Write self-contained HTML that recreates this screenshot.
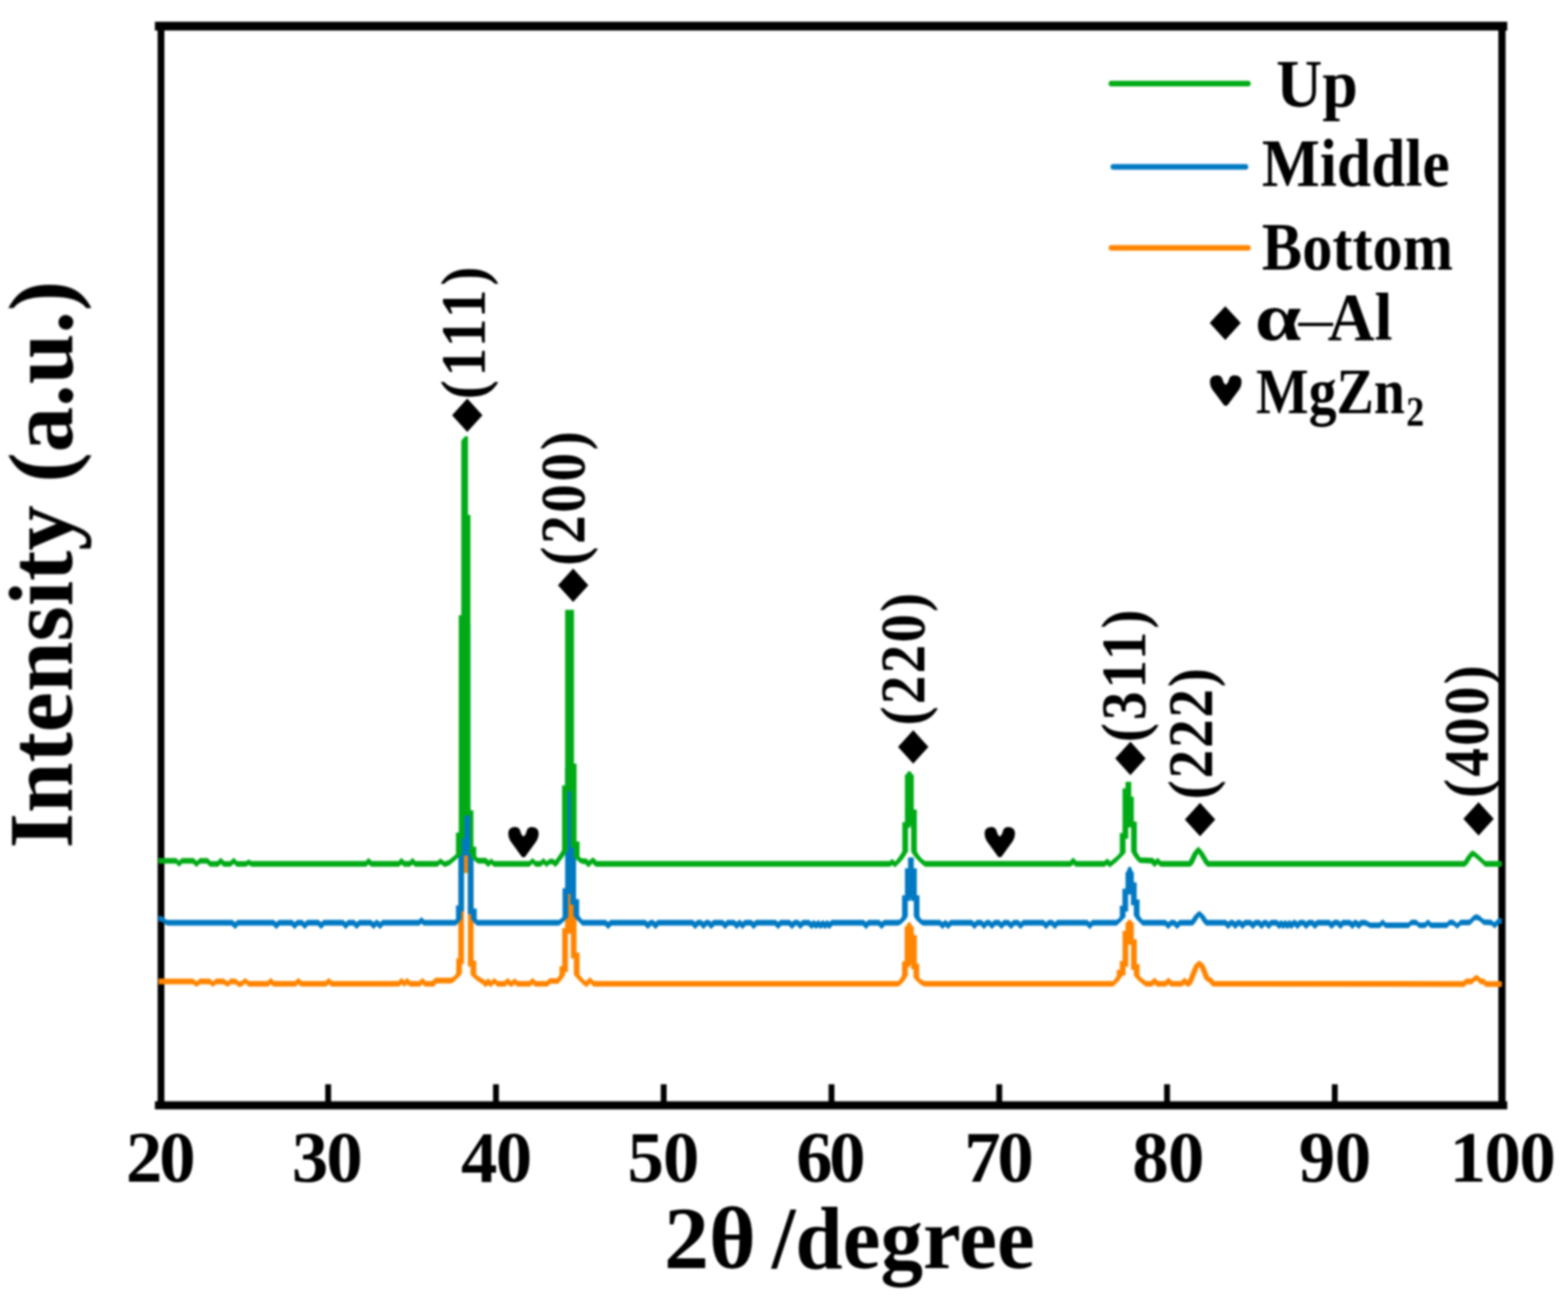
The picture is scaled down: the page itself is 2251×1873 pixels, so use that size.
<!DOCTYPE html>
<html lang="en">
<head>
<meta charset="utf-8">
<title>XRD patterns: Up, Middle, Bottom</title>
<style>
html,body{margin:0;padding:0;background:#fff;}
body{width:2251px;height:1873px;overflow:hidden;}
svg{display:block;}
svg text{font-family:'Liberation Serif','DejaVu Serif',serif;fill:#000;}
</style>
</head>
<body>
<svg width="2251" height="1873" viewBox="0 0 2251 1873">
<defs><filter id="soft" x="-2%" y="-2%" width="104%" height="104%" color-interpolation-filters="sRGB"><feGaussianBlur stdDeviation="1.35"/></filter></defs>
<rect x="0" y="0" width="2251" height="1873" fill="#fff"/>
<g filter="url(#soft)">
<rect x="222.4" y="31.2" width="1941.4" height="12.6" fill="#000"/>
<rect x="222.4" y="1580.6" width="1941.4" height="11.6" fill="#000"/>
<rect x="226.3" y="37.0" width="9.7" height="1549.0" fill="#000"/>
<rect x="2151.0" y="37.0" width="10.4" height="1549.0" fill="#000"/>
<rect x="466.9" y="1556.2" width="8.4" height="25.8" fill="#000"/>
<rect x="707.8" y="1556.2" width="8.4" height="25.8" fill="#000"/>
<rect x="948.6" y="1556.2" width="8.4" height="25.8" fill="#000"/>
<rect x="1189.5" y="1556.2" width="8.4" height="25.8" fill="#000"/>
<rect x="1430.3" y="1556.2" width="8.4" height="25.8" fill="#000"/>
<rect x="1671.2" y="1556.2" width="8.4" height="25.8" fill="#000"/>
<rect x="1912.0" y="1556.2" width="8.4" height="25.8" fill="#000"/>
<path d="M227.5,1404.5L277.0,1404.5L277.0,1412.7L227.5,1412.7ZM272.9,1408.6L277.0,1404.5L282.1,1408.4L286.2,1412.5L282.1,1416.6L277.0,1412.7ZM278.0,1412.5L282.1,1408.4L287.0,1404.5L291.1,1408.6L287.0,1412.7L282.1,1416.6ZM287.0,1404.5L301.0,1404.5L301.0,1412.7L287.0,1412.7ZM296.9,1408.6L301.0,1404.5L305.8,1408.4L309.9,1412.5L305.8,1416.6L301.0,1412.7ZM301.7,1412.5L305.8,1408.4L310.0,1404.5L314.1,1408.6L310.0,1412.7L305.8,1416.6ZM310.0,1404.5L321.0,1404.5L321.0,1412.7L310.0,1412.7ZM316.9,1408.6L321.0,1404.5L326.9,1408.4L331.0,1412.5L326.9,1416.6L321.0,1412.7ZM322.8,1412.5L326.9,1408.4L331.0,1404.5L335.1,1408.6L331.0,1412.7L326.9,1416.6ZM331.0,1404.5L338.0,1404.5L338.0,1412.7L331.0,1412.7ZM333.9,1408.6L338.0,1404.5L342.7,1408.4L346.8,1412.5L342.7,1416.6L338.0,1412.7ZM338.6,1412.5L342.7,1408.4L347.0,1407.9L351.1,1412.0L347.0,1416.1L342.7,1416.6ZM342.9,1412.0L347.0,1407.9L352.0,1403.4L356.1,1407.5L352.0,1411.6L347.0,1416.1ZM347.9,1407.5L352.0,1403.4L357.0,1407.9L361.1,1412.0L357.0,1416.1L352.0,1411.6ZM357.0,1407.9L385.3,1407.9L385.3,1416.1L357.0,1416.1ZM381.2,1412.0L384.7,1407.5L388.8,1403.4L392.9,1407.5L389.4,1412.0L385.3,1416.1ZM384.7,1407.5L388.8,1403.4L392.9,1407.5L396.4,1412.0L392.3,1416.1L388.2,1412.0ZM392.3,1407.9L424.8,1407.9L424.8,1416.1L392.3,1416.1ZM420.7,1412.0L424.2,1407.5L428.3,1403.4L432.4,1407.5L428.9,1412.0L424.8,1416.1ZM424.2,1407.5L428.3,1403.4L432.4,1407.5L435.9,1412.0L431.8,1416.1L427.7,1412.0ZM431.8,1407.9L468.5,1407.9L468.5,1416.1L431.8,1416.1ZM464.4,1412.0L467.9,1407.5L472.0,1403.4L476.1,1407.5L472.6,1412.0L468.5,1416.1ZM467.9,1407.5L472.0,1403.4L476.1,1407.5L479.6,1412.0L475.5,1416.1L471.4,1412.0ZM475.5,1407.9L572.9,1407.9L572.9,1416.1L475.5,1416.1ZM568.8,1412.0L572.3,1407.5L576.4,1403.4L580.5,1407.5L577.0,1412.0L572.9,1416.1ZM572.3,1407.5L576.4,1403.4L580.5,1407.5L584.0,1412.0L579.9,1416.1L575.8,1412.0ZM579.9,1407.9L581.0,1407.9L581.0,1416.1L579.9,1416.1ZM576.9,1412.0L580.4,1407.5L584.5,1403.4L588.6,1407.5L585.1,1412.0L581.0,1416.1ZM580.4,1407.5L584.5,1403.4L588.6,1407.5L592.1,1412.0L588.0,1416.1L583.9,1412.0ZM588.0,1407.9L603.0,1407.9L603.0,1416.1L588.0,1416.1ZM598.9,1412.0L602.4,1407.5L606.5,1403.4L610.6,1407.5L607.1,1412.0L603.0,1416.1ZM602.4,1407.5L606.5,1403.4L610.6,1407.5L614.1,1412.0L610.0,1416.1L605.9,1412.0ZM610.0,1407.9L620.0,1407.9L620.0,1416.1L610.0,1416.1ZM620.0,1407.9L622.0,1407.9L622.0,1416.1L620.0,1416.1ZM617.9,1412.0L620.9,1407.4L625.0,1403.3L629.1,1407.4L626.1,1412.0L622.0,1416.1ZM625.0,1403.3L648.0,1403.3L648.0,1411.5L625.0,1411.5ZM643.9,1407.4L648.0,1403.3L652.0,1400.9L656.1,1405.0L652.0,1409.1L648.0,1411.5ZM647.9,1405.0L651.9,1401.0L656.0,1396.9L660.1,1401.0L656.1,1405.0L652.0,1409.1ZM651.9,1401.0L655.0,1397.0L659.1,1392.9L663.2,1397.0L660.1,1401.0L656.0,1405.1ZM655.0,1379.5L663.2,1379.5L663.2,1397.0L655.0,1397.0ZM659.1,1375.4L662.0,1375.4L662.0,1383.6L659.1,1383.6ZM657.9,1249.0L666.1,1249.0L666.1,1379.5L657.9,1379.5ZM662.0,1244.9L668.5,1244.9L668.5,1253.1L662.0,1253.1ZM664.4,1228.6L672.6,1228.6L672.6,1249.0L664.4,1249.0ZM668.5,1224.5L669.5,1224.5L669.5,1232.7L668.5,1232.7ZM665.4,1228.6L673.6,1228.6L673.6,1249.0L665.4,1249.0ZM669.5,1244.9L675.8,1244.9L675.8,1253.1L669.5,1253.1ZM671.7,1249.0L679.9,1249.0L679.9,1383.2L671.7,1383.2ZM675.8,1379.1L679.6,1379.1L679.6,1387.3L675.8,1387.3ZM675.5,1383.2L683.7,1383.2L683.7,1398.9L675.5,1398.9ZM675.5,1398.9L679.6,1394.8L684.0,1398.9L688.1,1403.0L684.0,1407.1L679.6,1403.0ZM679.9,1403.0L684.0,1398.9L690.0,1402.9L694.1,1407.0L690.0,1411.1L684.0,1407.1ZM685.9,1407.0L690.0,1402.9L695.0,1405.9L699.1,1410.0L695.0,1414.1L690.0,1411.1ZM690.9,1410.0L695.0,1405.9L699.1,1410.0L701.1,1413.0L697.0,1417.1L692.9,1413.0ZM692.9,1413.0L696.7,1408.0L700.8,1403.9L704.9,1408.0L701.1,1413.0L697.0,1417.1ZM696.7,1408.0L700.8,1403.9L704.9,1408.0L708.6,1413.0L704.5,1417.1L700.4,1413.0ZM700.4,1413.0L705.6,1407.5L709.7,1403.4L713.8,1407.5L708.6,1413.0L704.5,1417.1ZM705.6,1407.5L709.7,1403.4L713.8,1407.5L718.1,1412.0L714.0,1416.1L709.9,1412.0ZM714.0,1407.9L725.5,1407.9L725.5,1416.1L714.0,1416.1ZM721.4,1412.0L724.9,1407.5L729.0,1403.4L733.1,1407.5L729.6,1412.0L725.5,1416.1ZM724.9,1407.5L729.0,1403.4L733.1,1407.5L736.6,1412.0L732.5,1416.1L728.4,1412.0ZM732.5,1407.9L735.5,1407.9L735.5,1416.1L732.5,1416.1ZM731.4,1412.0L734.9,1408.0L739.0,1403.9L743.1,1408.0L739.6,1412.0L735.5,1416.1ZM734.9,1408.0L739.0,1403.9L743.1,1408.0L746.6,1412.0L742.5,1416.1L738.4,1412.0ZM742.5,1407.9L761.0,1407.9L761.0,1416.1L742.5,1416.1ZM756.9,1412.0L760.4,1407.5L764.5,1403.4L768.6,1407.5L765.1,1412.0L761.0,1416.1ZM760.4,1407.5L764.5,1403.4L768.6,1407.5L772.1,1412.0L768.0,1416.1L763.9,1412.0ZM768.0,1407.9L786.0,1407.9L786.0,1416.1L768.0,1416.1ZM781.9,1412.0L784.9,1408.0L789.0,1403.9L793.1,1408.0L790.1,1412.0L786.0,1416.1ZM789.0,1403.9L801.0,1403.9L801.0,1412.1L789.0,1412.1ZM796.9,1408.0L799.9,1404.0L804.0,1399.9L808.1,1404.0L805.1,1408.0L801.0,1412.1ZM799.9,1404.0L803.2,1399.0L807.3,1394.9L811.4,1399.0L808.1,1404.0L804.0,1408.1ZM803.2,1390.8L811.4,1390.8L811.4,1399.0L803.2,1399.0ZM807.3,1386.7L811.2,1386.7L811.2,1394.9L807.3,1394.9ZM807.1,1336.0L815.3,1336.0L815.3,1390.8L807.1,1390.8ZM811.2,1331.9L815.4,1331.9L815.4,1340.1L811.2,1340.1ZM811.3,1282.0L819.5,1282.0L819.5,1336.0L811.3,1336.0ZM815.4,1277.9L822.4,1277.9L822.4,1286.1L815.4,1286.1ZM818.3,1282.0L826.5,1282.0L826.5,1297.0L818.3,1297.0ZM822.4,1292.9L823.6,1292.9L823.6,1301.1L822.4,1301.1ZM819.5,1297.0L827.7,1297.0L827.7,1371.4L819.5,1371.4ZM823.6,1367.3L827.9,1367.3L827.9,1375.5L823.6,1375.5ZM823.8,1371.4L832.0,1371.4L832.0,1399.0L823.8,1399.0ZM823.8,1399.0L827.9,1394.9L832.0,1399.0L836.1,1404.0L832.0,1408.1L827.9,1404.0ZM827.9,1404.0L832.0,1399.9L836.1,1404.0L841.1,1409.0L837.0,1413.1L832.9,1409.0ZM832.9,1409.0L837.0,1404.9L841.8,1408.9L845.9,1413.0L841.8,1417.1L837.0,1413.1ZM837.7,1413.0L842.9,1406.5L847.0,1402.4L851.1,1406.5L845.9,1413.0L841.8,1417.1ZM842.9,1406.5L847.0,1402.4L851.1,1406.5L856.1,1412.0L852.0,1416.1L847.9,1412.0ZM852.0,1407.9L1289.0,1407.9L1289.0,1416.1L852.0,1416.1ZM1284.9,1412.0L1289.0,1407.9L1292.5,1405.9L1296.6,1410.0L1292.5,1414.1L1289.0,1416.1ZM1288.4,1410.0L1291.9,1405.0L1296.0,1400.9L1300.1,1405.0L1296.6,1410.0L1292.5,1414.1ZM1291.9,1405.0L1295.0,1400.0L1299.1,1395.9L1303.2,1400.0L1300.1,1405.0L1296.0,1409.1ZM1295.0,1384.0L1303.2,1384.0L1303.2,1400.0L1295.0,1400.0ZM1299.1,1379.9L1302.8,1379.9L1302.8,1388.1L1299.1,1388.1ZM1298.7,1334.0L1306.9,1334.0L1306.9,1384.0L1298.7,1384.0ZM1302.8,1329.9L1307.7,1329.9L1307.7,1338.1L1302.8,1338.1ZM1303.6,1334.0L1311.8,1334.0L1311.8,1346.0L1303.6,1346.0ZM1307.7,1341.9L1312.1,1341.9L1312.1,1350.1L1307.7,1350.1ZM1308.0,1346.0L1316.2,1346.0L1316.2,1387.0L1308.0,1387.0ZM1312.1,1382.9L1315.5,1382.9L1315.5,1391.1L1312.1,1391.1ZM1311.4,1387.0L1319.6,1387.0L1319.6,1402.7L1311.4,1402.7ZM1311.4,1402.7L1315.5,1398.6L1319.6,1402.7L1322.1,1406.0L1318.0,1410.1L1313.9,1406.0ZM1313.9,1406.0L1318.0,1401.9L1322.0,1405.4L1326.1,1409.5L1322.0,1413.6L1318.0,1410.1ZM1317.9,1409.5L1322.0,1405.4L1327.0,1407.9L1331.1,1412.0L1327.0,1416.1L1322.0,1413.6ZM1327.0,1407.9L1598.0,1407.9L1598.0,1416.1L1327.0,1416.1ZM1593.9,1412.0L1603.0,1402.9L1607.1,1407.0L1598.0,1416.1ZM1598.9,1407.0L1603.2,1401.0L1607.3,1396.9L1611.4,1401.0L1607.1,1407.0L1603.0,1411.1ZM1603.2,1396.0L1611.4,1396.0L1611.4,1401.0L1603.2,1401.0ZM1607.3,1391.9L1611.7,1391.9L1611.7,1400.1L1607.3,1400.1ZM1607.6,1383.3L1615.8,1383.3L1615.8,1396.0L1607.6,1396.0ZM1611.7,1379.2L1615.6,1379.2L1615.6,1387.4L1611.7,1387.4ZM1611.5,1340.2L1619.7,1340.2L1619.7,1383.3L1611.5,1383.3ZM1615.6,1336.1L1619.9,1336.1L1619.9,1344.3L1615.6,1344.3ZM1615.8,1328.0L1624.0,1328.0L1624.0,1340.2L1615.8,1340.2ZM1619.9,1323.9L1623.6,1323.9L1623.6,1332.1L1619.9,1332.1ZM1619.5,1328.0L1627.7,1328.0L1627.7,1352.0L1619.5,1352.0ZM1623.6,1347.9L1627.9,1347.9L1627.9,1356.1L1623.6,1356.1ZM1623.8,1352.0L1632.0,1352.0L1632.0,1387.8L1623.8,1387.8ZM1627.9,1383.7L1631.8,1383.7L1631.8,1391.9L1627.9,1391.9ZM1627.7,1387.8L1635.9,1387.8L1635.9,1400.0L1627.7,1400.0ZM1627.7,1400.0L1631.8,1395.9L1635.9,1400.0L1640.1,1405.0L1636.0,1409.1L1631.9,1405.0ZM1631.9,1405.0L1636.0,1400.9L1641.0,1404.9L1645.1,1409.0L1641.0,1413.1L1636.0,1409.1ZM1636.9,1409.0L1641.0,1404.9L1645.0,1407.9L1649.1,1412.0L1645.0,1416.1L1641.0,1413.1ZM1645.0,1407.9L1654.0,1407.9L1654.0,1416.1L1645.0,1416.1ZM1649.9,1412.0L1653.4,1407.0L1657.5,1402.9L1661.6,1407.0L1658.1,1412.0L1654.0,1416.1ZM1653.4,1407.0L1657.5,1402.9L1661.6,1407.0L1665.1,1412.0L1661.0,1416.1L1656.9,1412.0ZM1661.0,1407.9L1674.0,1407.9L1674.0,1416.1L1661.0,1416.1ZM1669.9,1412.0L1673.4,1407.0L1677.5,1402.9L1681.6,1407.0L1678.1,1412.0L1674.0,1416.1ZM1673.4,1407.0L1677.5,1402.9L1681.6,1407.0L1685.1,1412.0L1681.0,1416.1L1676.9,1412.0ZM1681.0,1407.9L1697.0,1407.9L1697.0,1416.1L1681.0,1416.1ZM1692.9,1412.0L1696.4,1407.0L1700.5,1402.9L1704.6,1407.0L1701.1,1412.0L1697.0,1416.1ZM1696.4,1407.0L1700.5,1402.9L1704.6,1407.0L1708.1,1412.0L1704.0,1416.1L1699.9,1412.0ZM1704.0,1407.9L1705.0,1407.9L1705.0,1416.1L1704.0,1416.1ZM1700.9,1412.0L1705.0,1407.9L1707.5,1407.5L1711.6,1411.6L1707.5,1415.7L1705.0,1416.1ZM1703.4,1411.6L1707.4,1402.0L1711.5,1397.9L1715.6,1402.0L1711.6,1411.6L1707.5,1415.7ZM1707.4,1402.0L1711.4,1392.0L1715.5,1387.9L1719.6,1392.0L1715.6,1402.0L1711.5,1406.1ZM1711.4,1392.0L1714.4,1385.0L1718.5,1380.9L1722.6,1385.0L1719.6,1392.0L1715.5,1396.1ZM1714.4,1385.0L1718.5,1380.9L1721.8,1378.6L1725.9,1382.7L1721.8,1386.8L1718.5,1389.1ZM1717.7,1382.7L1721.8,1378.6L1725.0,1380.9L1729.1,1385.0L1725.0,1389.1L1721.8,1386.8ZM1720.9,1385.0L1725.0,1380.9L1729.1,1385.0L1732.1,1392.0L1728.0,1396.1L1723.9,1392.0ZM1723.9,1392.0L1728.0,1387.9L1732.1,1392.0L1735.1,1400.0L1731.0,1404.1L1726.9,1400.0ZM1726.9,1400.0L1731.0,1395.9L1735.1,1400.0L1737.1,1405.0L1733.0,1409.1L1728.9,1405.0ZM1728.9,1405.0L1733.0,1400.9L1738.0,1402.4L1742.1,1406.5L1738.0,1410.6L1733.0,1409.1ZM1733.9,1406.5L1738.0,1402.4L1742.1,1406.5L1745.1,1412.0L1741.0,1416.1L1736.9,1412.0ZM1736.9,1412.0L1741.0,1407.9L2102.0,1408.2L2106.1,1412.3L2102.0,1416.4L1741.0,1416.1ZM2097.9,1412.3L2100.4,1408.6L2104.5,1404.5L2108.6,1408.6L2106.1,1412.3L2102.0,1416.4ZM2104.5,1404.5L2113.0,1404.5L2113.0,1412.7L2104.5,1412.7ZM2108.9,1408.6L2112.9,1404.5L2117.0,1400.4L2121.1,1404.5L2117.1,1408.6L2113.0,1412.7ZM2112.9,1404.5L2117.0,1400.4L2119.5,1399.3L2123.6,1403.4L2119.5,1407.5L2117.0,1408.6ZM2115.4,1403.4L2119.5,1399.3L2122.0,1400.4L2126.1,1404.5L2122.0,1408.6L2119.5,1407.5ZM2117.9,1404.5L2122.0,1400.4L2126.1,1404.5L2129.6,1408.6L2125.5,1412.7L2121.4,1408.6ZM2125.5,1404.5L2130.0,1404.5L2130.0,1412.7L2125.5,1412.7ZM2125.9,1408.6L2130.0,1404.5L2134.1,1408.6L2137.1,1412.3L2133.0,1416.4L2128.9,1412.3ZM2133.0,1408.2L2156.0,1408.2L2156.0,1416.4L2133.0,1416.4ZM615.9,1407.9L624.1,1407.9L624.1,1416.1L615.9,1416.1ZM655.0,1375.4L663.2,1375.4L663.2,1383.6L655.0,1383.6ZM657.9,1375.4L666.1,1375.4L666.1,1383.6L657.9,1383.6ZM657.9,1244.9L666.1,1244.9L666.1,1253.1L657.9,1253.1ZM664.4,1244.9L672.6,1244.9L672.6,1253.1L664.4,1253.1ZM664.4,1224.5L672.6,1224.5L672.6,1232.7L664.4,1232.7ZM665.4,1224.5L673.6,1224.5L673.6,1232.7L665.4,1232.7ZM665.4,1244.9L673.6,1244.9L673.6,1253.1L665.4,1253.1ZM671.7,1244.9L679.9,1244.9L679.9,1253.1L671.7,1253.1ZM671.7,1379.1L679.9,1379.1L679.9,1387.3L671.7,1387.3ZM675.5,1379.1L683.7,1379.1L683.7,1387.3L675.5,1387.3ZM803.2,1386.7L811.4,1386.7L811.4,1394.9L803.2,1394.9ZM807.1,1386.7L815.3,1386.7L815.3,1394.9L807.1,1394.9ZM807.1,1331.9L815.3,1331.9L815.3,1340.1L807.1,1340.1ZM811.3,1331.9L819.5,1331.9L819.5,1340.1L811.3,1340.1ZM811.3,1277.9L819.5,1277.9L819.5,1286.1L811.3,1286.1ZM818.3,1277.9L826.5,1277.9L826.5,1286.1L818.3,1286.1ZM818.3,1292.9L826.5,1292.9L826.5,1301.1L818.3,1301.1ZM819.5,1292.9L827.7,1292.9L827.7,1301.1L819.5,1301.1ZM819.5,1367.3L827.7,1367.3L827.7,1375.5L819.5,1375.5ZM823.8,1367.3L832.0,1367.3L832.0,1375.5L823.8,1375.5ZM1295.0,1379.9L1303.2,1379.9L1303.2,1388.1L1295.0,1388.1ZM1298.7,1379.9L1306.9,1379.9L1306.9,1388.1L1298.7,1388.1ZM1298.7,1329.9L1306.9,1329.9L1306.9,1338.1L1298.7,1338.1ZM1303.6,1329.9L1311.8,1329.9L1311.8,1338.1L1303.6,1338.1ZM1303.6,1341.9L1311.8,1341.9L1311.8,1350.1L1303.6,1350.1ZM1308.0,1341.9L1316.2,1341.9L1316.2,1350.1L1308.0,1350.1ZM1308.0,1382.9L1316.2,1382.9L1316.2,1391.1L1308.0,1391.1ZM1311.4,1382.9L1319.6,1382.9L1319.6,1391.1L1311.4,1391.1ZM1603.2,1391.9L1611.4,1391.9L1611.4,1400.1L1603.2,1400.1ZM1607.6,1391.9L1615.8,1391.9L1615.8,1400.1L1607.6,1400.1ZM1607.6,1379.2L1615.8,1379.2L1615.8,1387.4L1607.6,1387.4ZM1611.5,1379.2L1619.7,1379.2L1619.7,1387.4L1611.5,1387.4ZM1611.5,1336.1L1619.7,1336.1L1619.7,1344.3L1611.5,1344.3ZM1615.8,1336.1L1624.0,1336.1L1624.0,1344.3L1615.8,1344.3ZM1615.8,1323.9L1624.0,1323.9L1624.0,1332.1L1615.8,1332.1ZM1619.5,1323.9L1627.7,1323.9L1627.7,1332.1L1619.5,1332.1ZM1619.5,1347.9L1627.7,1347.9L1627.7,1356.1L1619.5,1356.1ZM1623.8,1347.9L1632.0,1347.9L1632.0,1356.1L1623.8,1356.1ZM1623.8,1383.7L1632.0,1383.7L1632.0,1391.9L1623.8,1391.9ZM1627.7,1383.7L1635.9,1383.7L1635.9,1391.9L1627.7,1391.9Z" fill="#ff8400" fill-rule="nonzero"/>
<path d="M815.4,1315.0L823.6,1315.0L823.6,1336.0L815.4,1336.0Z" fill="#ff8400" fill-rule="nonzero"/>
<path d="M1303.4,1340.0L1311.6,1340.0L1311.6,1384.0L1303.4,1384.0Z" fill="#ff8400" fill-rule="nonzero"/>
<path d="M1615.5,1336.0L1623.7,1336.0L1623.7,1352.0L1615.5,1352.0Z" fill="#ff8400" fill-rule="nonzero"/>
<polygon points="1298.7,1333.0 1303.9,1323.8 1306.9,1323.8 1311.8,1333.0" fill="#ff8400"/>
<polygon points="1615.8,1327.0 1620.0,1320.1 1623.0,1320.1 1627.7,1327.0" fill="#ff8400"/>
<path d="M227.5,1314.4L231.0,1314.4L231.0,1322.6L227.5,1322.6ZM226.9,1318.5L231.0,1314.4L234.0,1315.9L238.1,1320.0L234.0,1324.1L231.0,1322.6ZM229.9,1320.0L234.0,1315.9L238.0,1319.4L242.1,1323.5L238.0,1327.6L234.0,1324.1ZM233.9,1323.5L238.0,1319.4L241.3,1320.2L245.4,1324.3L241.3,1328.4L238.0,1327.6ZM241.3,1320.2L333.9,1320.2L333.9,1328.4L241.3,1328.4ZM329.8,1324.3L333.9,1320.2L338.0,1324.3L341.5,1329.3L337.4,1333.4L333.3,1329.3ZM333.3,1329.3L336.8,1324.3L340.9,1320.2L345.0,1324.3L341.5,1329.3L337.4,1333.4ZM340.9,1320.2L393.2,1320.2L393.2,1328.4L340.9,1328.4ZM389.1,1324.3L393.2,1320.2L397.3,1324.3L400.8,1329.3L396.7,1333.4L392.6,1329.3ZM392.6,1329.3L396.1,1324.3L400.2,1320.2L404.3,1324.3L400.8,1329.3L396.7,1333.4ZM400.2,1320.2L419.5,1320.2L419.5,1328.4L400.2,1328.4ZM415.4,1324.3L419.5,1320.2L423.6,1324.3L427.1,1329.3L423.0,1333.4L418.9,1329.3ZM418.9,1329.3L422.4,1324.3L426.5,1320.2L430.6,1324.3L427.1,1329.3L423.0,1333.4ZM426.5,1320.2L434.0,1320.2L434.0,1328.4L426.5,1328.4ZM429.9,1324.3L434.0,1320.2L438.1,1324.3L441.6,1329.3L437.5,1333.4L433.4,1329.3ZM433.4,1329.3L436.9,1324.3L441.0,1320.2L445.1,1324.3L441.6,1329.3L437.5,1333.4ZM441.0,1320.2L457.5,1320.2L457.5,1328.4L441.0,1328.4ZM453.4,1324.3L457.5,1320.2L461.6,1324.3L465.1,1329.3L461.0,1333.4L456.9,1329.3ZM456.9,1329.3L460.4,1324.3L464.5,1320.2L468.6,1324.3L465.1,1329.3L461.0,1333.4ZM464.5,1320.2L492.8,1320.2L492.8,1328.4L464.5,1328.4ZM488.7,1324.3L492.8,1320.2L496.9,1324.3L500.4,1329.3L496.3,1333.4L492.2,1329.3ZM492.2,1329.3L495.7,1324.3L499.8,1320.2L503.9,1324.3L500.4,1329.3L496.3,1333.4ZM499.8,1320.2L508.5,1320.2L508.5,1328.4L499.8,1328.4ZM504.4,1324.3L508.5,1320.2L512.6,1324.3L516.1,1329.3L512.0,1333.4L507.9,1329.3ZM507.9,1329.3L511.4,1324.3L515.5,1320.2L519.6,1324.3L516.1,1329.3L512.0,1333.4ZM515.5,1320.2L532.8,1320.2L532.8,1328.4L515.5,1328.4ZM528.7,1324.3L532.8,1320.2L536.9,1324.3L540.4,1329.3L536.3,1333.4L532.2,1329.3ZM532.2,1329.3L535.7,1324.3L539.8,1320.2L543.9,1324.3L540.4,1329.3L536.3,1333.4ZM539.8,1320.2L542.0,1320.2L542.0,1328.4L539.8,1328.4ZM537.9,1324.3L542.0,1320.2L546.1,1324.3L549.6,1329.3L545.5,1333.4L541.4,1329.3ZM541.4,1329.3L544.9,1324.3L549.0,1320.2L553.1,1324.3L549.6,1329.3L545.5,1333.4ZM549.0,1320.2L602.0,1320.2L602.0,1328.4L549.0,1328.4ZM597.9,1324.3L600.9,1320.3L605.0,1316.2L609.1,1320.3L606.1,1324.3L602.0,1328.4ZM600.9,1320.3L605.0,1316.2L609.1,1320.3L612.1,1324.3L608.0,1328.4L603.9,1324.3ZM608.0,1320.2L654.5,1320.2L654.5,1328.4L608.0,1328.4ZM650.4,1324.3L654.6,1319.0L658.7,1314.9L662.8,1319.0L658.6,1324.3L654.5,1328.4ZM654.6,1303.6L662.8,1303.6L662.8,1319.0L654.6,1319.0ZM658.7,1299.5L662.1,1299.5L662.1,1307.7L658.7,1307.7ZM658.0,1224.0L666.2,1224.0L666.2,1303.6L658.0,1303.6ZM662.1,1219.9L665.8,1219.9L665.8,1228.1L662.1,1228.1ZM661.7,900.0L669.9,900.0L669.9,1224.0L661.7,1224.0ZM665.8,895.9L671.2,895.9L671.2,904.1L665.8,904.1ZM667.1,900.0L675.3,900.0L675.3,1224.0L667.1,1224.0ZM671.2,1219.9L675.7,1219.9L675.7,1228.1L671.2,1228.1ZM671.6,1224.0L679.8,1224.0L679.8,1308.0L671.6,1308.0ZM675.7,1303.9L680.3,1303.9L680.3,1312.1L675.7,1312.1ZM676.2,1308.0L684.4,1308.0L684.4,1319.0L676.2,1319.0ZM676.2,1319.0L680.3,1314.9L684.4,1319.0L688.6,1324.3L684.5,1328.4L680.4,1324.3ZM684.5,1320.2L802.4,1320.2L802.4,1328.4L684.5,1328.4ZM798.3,1324.3L802.4,1320.2L807.0,1316.9L811.1,1321.0L807.0,1325.1L802.4,1328.4ZM802.9,1321.0L807.6,1316.0L811.7,1311.9L815.8,1316.0L811.1,1321.0L807.0,1325.1ZM807.6,1278.9L815.8,1278.9L815.8,1316.0L807.6,1316.0ZM811.7,1274.8L815.4,1274.8L815.4,1283.0L811.7,1283.0ZM811.3,1106.0L819.5,1106.0L819.5,1278.9L811.3,1278.9ZM815.4,1101.9L822.9,1101.9L822.9,1110.1L815.4,1110.1ZM818.8,1106.0L827.0,1106.0L827.0,1294.5L818.8,1294.5ZM822.9,1290.4L827.3,1290.4L827.3,1298.6L822.9,1298.6ZM823.2,1294.5L831.4,1294.5L831.4,1314.0L823.2,1314.0ZM823.2,1314.0L827.3,1309.9L831.4,1314.0L835.1,1319.0L831.0,1323.1L826.9,1319.0ZM826.9,1319.0L831.0,1314.9L835.1,1319.0L840.1,1324.3L836.0,1328.4L831.9,1324.3ZM836.0,1320.2L869.9,1320.2L869.9,1328.4L836.0,1328.4ZM865.8,1324.3L869.9,1320.2L874.0,1324.3L877.2,1329.3L873.1,1333.4L869.0,1329.3ZM869.0,1329.3L872.2,1324.3L876.3,1320.2L880.4,1324.3L877.2,1329.3L873.1,1333.4ZM876.3,1320.2L926.8,1320.2L926.8,1328.4L876.3,1328.4ZM922.7,1324.3L926.8,1320.2L930.9,1324.3L934.1,1329.3L930.0,1333.4L925.9,1329.3ZM925.9,1329.3L929.1,1324.3L933.2,1320.2L937.3,1324.3L934.1,1329.3L930.0,1333.4ZM933.2,1320.2L937.8,1320.2L937.8,1328.4L933.2,1328.4ZM933.7,1324.3L937.8,1320.2L941.9,1324.3L945.1,1329.3L941.0,1333.4L936.9,1329.3ZM936.9,1329.3L940.1,1324.3L944.2,1320.2L948.3,1324.3L945.1,1329.3L941.0,1333.4ZM944.2,1320.2L994.8,1320.2L994.8,1328.4L944.2,1328.4ZM990.7,1324.3L994.8,1320.2L998.9,1324.3L1002.1,1329.3L998.0,1333.4L993.9,1329.3ZM993.9,1329.3L997.1,1324.3L1001.2,1320.2L1005.3,1324.3L1002.1,1329.3L998.0,1333.4ZM1001.2,1320.2L1006.8,1320.2L1006.8,1328.4L1001.2,1328.4ZM1002.7,1324.3L1006.8,1320.2L1010.9,1324.3L1014.1,1329.3L1010.0,1333.4L1005.9,1329.3ZM1005.9,1329.3L1009.1,1324.3L1013.2,1320.2L1017.3,1324.3L1014.1,1329.3L1010.0,1333.4ZM1013.2,1320.2L1017.8,1320.2L1017.8,1328.4L1013.2,1328.4ZM1013.7,1324.3L1017.8,1320.2L1021.9,1324.3L1025.1,1329.3L1021.0,1333.4L1016.9,1329.3ZM1016.9,1329.3L1020.1,1324.3L1024.2,1320.2L1028.3,1324.3L1025.1,1329.3L1021.0,1333.4ZM1024.2,1320.2L1037.8,1320.2L1037.8,1328.4L1024.2,1328.4ZM1033.7,1324.3L1037.8,1320.2L1041.9,1324.3L1045.1,1329.3L1041.0,1333.4L1036.9,1329.3ZM1036.9,1329.3L1040.1,1324.3L1044.2,1320.2L1048.3,1324.3L1045.1,1329.3L1041.0,1333.4ZM1044.2,1320.2L1054.3,1320.2L1054.3,1328.4L1044.2,1328.4ZM1050.2,1324.3L1054.3,1320.2L1058.4,1324.3L1061.6,1329.3L1057.5,1333.4L1053.4,1329.3ZM1053.4,1329.3L1056.6,1324.3L1060.7,1320.2L1064.8,1324.3L1061.6,1329.3L1057.5,1333.4ZM1060.7,1320.2L1062.8,1320.2L1062.8,1328.4L1060.7,1328.4ZM1058.7,1324.3L1062.8,1320.2L1066.9,1324.3L1070.1,1329.3L1066.0,1333.4L1061.9,1329.3ZM1061.9,1329.3L1065.1,1324.3L1069.2,1320.2L1073.3,1324.3L1070.1,1329.3L1066.0,1333.4ZM1069.2,1320.2L1078.8,1320.2L1078.8,1328.4L1069.2,1328.4ZM1074.7,1324.3L1078.8,1320.2L1082.9,1324.3L1086.1,1329.3L1082.0,1333.4L1077.9,1329.3ZM1077.9,1329.3L1081.1,1324.3L1085.2,1320.2L1089.3,1324.3L1086.1,1329.3L1082.0,1333.4ZM1085.2,1320.2L1113.8,1320.2L1113.8,1328.4L1085.2,1328.4ZM1109.7,1324.3L1113.8,1320.2L1117.9,1324.3L1121.1,1329.3L1117.0,1333.4L1112.9,1329.3ZM1112.9,1329.3L1116.1,1324.3L1120.2,1320.2L1124.3,1324.3L1121.1,1329.3L1117.0,1333.4ZM1120.2,1320.2L1133.8,1320.2L1133.8,1328.4L1120.2,1328.4ZM1129.7,1324.3L1133.8,1320.2L1137.9,1324.3L1141.1,1329.3L1137.0,1333.4L1132.9,1329.3ZM1132.9,1329.3L1136.1,1324.3L1140.2,1320.2L1144.3,1324.3L1141.1,1329.3L1137.0,1333.4ZM1140.2,1320.2L1145.8,1320.2L1145.8,1328.4L1140.2,1328.4ZM1141.7,1324.3L1145.8,1320.2L1149.9,1324.3L1153.1,1329.3L1149.0,1333.4L1144.9,1329.3ZM1144.9,1329.3L1148.1,1324.3L1152.2,1320.2L1156.3,1324.3L1153.1,1329.3L1149.0,1333.4ZM1152.2,1320.2L1161.8,1320.2L1161.8,1328.4L1152.2,1328.4ZM1157.7,1324.3L1161.8,1320.2L1165.9,1324.3L1169.1,1329.3L1165.0,1333.4L1160.9,1329.3ZM1160.9,1329.3L1164.1,1324.3L1168.2,1320.2L1172.3,1324.3L1169.1,1329.3L1165.0,1333.4ZM1168.2,1320.2L1168.3,1320.2L1168.3,1328.4L1168.2,1328.4ZM1164.2,1324.3L1168.3,1320.2L1172.4,1324.3L1175.6,1329.3L1171.5,1333.4L1167.4,1329.3ZM1167.4,1329.3L1170.6,1324.3L1174.7,1320.2L1178.8,1324.3L1175.6,1329.3L1171.5,1333.4ZM1174.7,1320.2L1174.8,1320.2L1174.8,1328.4L1174.7,1328.4ZM1170.7,1324.3L1174.8,1320.2L1178.9,1324.3L1182.1,1329.3L1178.0,1333.4L1173.9,1329.3ZM1173.9,1329.3L1177.1,1324.3L1181.2,1320.2L1185.3,1324.3L1182.1,1329.3L1178.0,1333.4ZM1177.1,1324.3L1181.2,1320.2L1185.3,1324.3L1188.3,1329.3L1184.2,1333.4L1180.1,1329.3ZM1180.1,1329.3L1183.3,1324.3L1187.4,1320.2L1191.5,1324.3L1188.3,1329.3L1184.2,1333.4ZM1183.3,1324.3L1187.4,1320.2L1191.5,1324.3L1194.6,1329.3L1190.5,1333.4L1186.4,1329.3ZM1186.4,1329.3L1189.6,1324.3L1193.7,1320.2L1197.8,1324.3L1194.6,1329.3L1190.5,1333.4ZM1193.7,1320.2L1240.1,1320.2L1240.1,1328.4L1193.7,1328.4ZM1236.0,1324.3L1240.1,1320.2L1244.2,1324.3L1247.4,1329.3L1243.3,1333.4L1239.2,1329.3ZM1239.2,1329.3L1242.4,1324.3L1246.5,1320.2L1250.6,1324.3L1247.4,1329.3L1243.3,1333.4ZM1246.5,1320.2L1262.4,1320.2L1262.4,1328.4L1246.5,1328.4ZM1258.3,1324.3L1262.4,1320.2L1266.5,1324.3L1269.7,1329.3L1265.6,1333.4L1261.5,1329.3ZM1261.5,1329.3L1264.7,1324.3L1268.8,1320.2L1272.9,1324.3L1269.7,1329.3L1265.6,1333.4ZM1268.8,1320.2L1289.0,1320.2L1289.0,1328.4L1268.8,1328.4ZM1284.9,1324.3L1289.0,1320.2L1292.0,1319.4L1296.1,1323.5L1292.0,1327.6L1289.0,1328.4ZM1287.9,1323.5L1292.0,1319.4L1296.0,1315.9L1300.1,1320.0L1296.0,1324.1L1292.0,1327.6ZM1291.9,1320.0L1295.0,1315.0L1299.1,1310.9L1303.2,1315.0L1300.1,1320.0L1296.0,1324.1ZM1295.0,1289.0L1303.2,1289.0L1303.2,1315.0L1295.0,1315.0ZM1299.1,1284.9L1303.2,1284.9L1303.2,1293.1L1299.1,1293.1ZM1299.1,1250.4L1307.3,1250.4L1307.3,1289.0L1299.1,1289.0ZM1303.2,1246.3L1307.7,1246.3L1307.7,1254.5L1303.2,1254.5ZM1303.6,1235.1L1311.8,1235.1L1311.8,1250.4L1303.6,1250.4ZM1303.6,1235.1L1311.8,1235.1L1311.8,1250.4L1303.6,1250.4ZM1307.7,1246.3L1312.1,1246.3L1312.1,1254.5L1307.7,1254.5ZM1308.0,1250.4L1316.2,1250.4L1316.2,1289.0L1308.0,1289.0ZM1312.1,1284.9L1315.9,1284.9L1315.9,1293.1L1312.1,1293.1ZM1311.8,1289.0L1320.0,1289.0L1320.0,1315.0L1311.8,1315.0ZM1311.8,1315.0L1315.9,1310.9L1320.0,1315.0L1323.1,1320.0L1319.0,1324.1L1314.9,1320.0ZM1314.9,1320.0L1319.0,1315.9L1323.0,1319.4L1327.1,1323.5L1323.0,1327.6L1319.0,1324.1ZM1318.9,1323.5L1323.0,1319.4L1326.0,1320.2L1330.1,1324.3L1326.0,1328.4L1323.0,1327.6ZM1326.0,1320.2L1349.6,1320.2L1349.6,1328.4L1326.0,1328.4ZM1345.5,1324.3L1349.6,1320.2L1353.7,1324.3L1357.2,1329.3L1353.1,1333.4L1349.0,1329.3ZM1349.0,1329.3L1352.5,1324.3L1356.6,1320.2L1360.7,1324.3L1357.2,1329.3L1353.1,1333.4ZM1356.6,1320.2L1357.6,1320.2L1357.6,1328.4L1356.6,1328.4ZM1353.5,1324.3L1357.6,1320.2L1361.7,1324.3L1365.2,1329.3L1361.1,1333.4L1357.0,1329.3ZM1357.0,1329.3L1360.5,1324.3L1364.6,1320.2L1368.7,1324.3L1365.2,1329.3L1361.1,1333.4ZM1364.6,1320.2L1395.4,1320.2L1395.4,1328.4L1364.6,1328.4ZM1391.3,1324.3L1395.4,1320.2L1399.5,1324.3L1403.0,1329.3L1398.9,1333.4L1394.8,1329.3ZM1394.8,1329.3L1398.3,1324.3L1402.4,1320.2L1406.5,1324.3L1403.0,1329.3L1398.9,1333.4ZM1402.4,1320.2L1409.1,1320.2L1409.1,1328.4L1402.4,1328.4ZM1405.0,1324.3L1409.1,1320.2L1413.2,1324.3L1416.7,1329.3L1412.6,1333.4L1408.5,1329.3ZM1408.5,1329.3L1412.0,1324.3L1416.1,1320.2L1420.2,1324.3L1416.7,1329.3L1412.6,1333.4ZM1416.1,1320.2L1420.5,1320.2L1420.5,1328.4L1416.1,1328.4ZM1416.4,1324.3L1420.5,1320.2L1424.6,1324.3L1428.1,1329.3L1424.0,1333.4L1419.9,1329.3ZM1419.9,1329.3L1423.4,1324.3L1427.5,1320.2L1431.6,1324.3L1428.1,1329.3L1424.0,1333.4ZM1427.5,1320.2L1434.2,1320.2L1434.2,1328.4L1427.5,1328.4ZM1430.1,1324.3L1434.2,1320.2L1438.3,1324.3L1441.8,1329.3L1437.7,1333.4L1433.6,1329.3ZM1433.6,1329.3L1437.1,1324.3L1441.2,1320.2L1445.3,1324.3L1441.8,1329.3L1437.7,1333.4ZM1441.2,1320.2L1447.9,1320.2L1447.9,1328.4L1441.2,1328.4ZM1443.8,1324.3L1447.9,1320.2L1452.0,1324.3L1455.5,1329.3L1451.4,1333.4L1447.3,1329.3ZM1447.3,1329.3L1450.8,1324.3L1454.9,1320.2L1459.0,1324.3L1455.5,1329.3L1451.4,1333.4ZM1454.9,1320.2L1461.6,1320.2L1461.6,1328.4L1454.9,1328.4ZM1457.5,1324.3L1461.6,1320.2L1465.7,1324.3L1469.2,1329.3L1465.1,1333.4L1461.0,1329.3ZM1461.0,1329.3L1464.5,1324.3L1468.6,1320.2L1472.7,1324.3L1469.2,1329.3L1465.1,1333.4ZM1468.6,1320.2L1498.2,1320.2L1498.2,1328.4L1468.6,1328.4ZM1494.1,1324.3L1498.2,1320.2L1502.3,1324.3L1505.8,1329.3L1501.7,1333.4L1497.6,1329.3ZM1497.6,1329.3L1501.1,1324.3L1505.2,1320.2L1509.3,1324.3L1505.8,1329.3L1501.7,1333.4ZM1505.2,1320.2L1510.8,1320.2L1510.8,1328.4L1505.2,1328.4ZM1506.7,1324.3L1510.8,1320.2L1514.9,1324.3L1518.4,1329.3L1514.3,1333.4L1510.2,1329.3ZM1510.2,1329.3L1513.7,1324.3L1517.8,1320.2L1521.9,1324.3L1518.4,1329.3L1514.3,1333.4ZM1517.8,1320.2L1561.0,1320.2L1561.0,1328.4L1517.8,1328.4ZM1556.9,1324.3L1561.0,1320.2L1565.1,1324.3L1568.6,1329.3L1564.5,1333.4L1560.4,1329.3ZM1560.4,1329.3L1563.9,1324.3L1568.0,1320.2L1572.1,1324.3L1568.6,1329.3L1564.5,1333.4ZM1568.0,1320.2L1603.0,1320.2L1603.0,1328.4L1568.0,1328.4ZM1598.9,1324.3L1603.0,1320.2L1607.0,1316.9L1611.1,1321.0L1607.0,1325.1L1603.0,1328.4ZM1602.9,1321.0L1607.6,1316.0L1611.7,1311.9L1615.8,1316.0L1611.1,1321.0L1607.0,1325.1ZM1607.6,1304.2L1615.8,1304.2L1615.8,1316.0L1607.6,1316.0ZM1611.7,1300.1L1615.4,1300.1L1615.4,1308.3L1611.7,1308.3ZM1611.3,1279.6L1619.5,1279.6L1619.5,1304.2L1611.3,1304.2ZM1615.4,1275.5L1619.9,1275.5L1619.9,1283.7L1615.4,1283.7ZM1615.8,1256.0L1624.0,1256.0L1624.0,1279.6L1615.8,1279.6ZM1619.9,1251.9L1623.6,1251.9L1623.6,1260.1L1619.9,1260.1ZM1619.5,1256.0L1627.7,1256.0L1627.7,1270.7L1619.5,1270.7ZM1623.6,1266.6L1627.7,1266.6L1627.7,1274.8L1623.6,1274.8ZM1623.6,1270.7L1631.8,1270.7L1631.8,1295.2L1623.6,1295.2ZM1627.7,1291.1L1631.8,1291.1L1631.8,1299.3L1627.7,1299.3ZM1627.7,1295.2L1635.9,1295.2L1635.9,1314.0L1627.7,1314.0ZM1627.7,1314.0L1631.8,1309.9L1635.9,1314.0L1640.1,1320.0L1636.0,1324.1L1631.9,1320.0ZM1631.9,1320.0L1636.0,1315.9L1640.4,1320.2L1644.5,1324.3L1640.4,1328.4L1636.0,1324.1ZM1640.4,1320.2L1673.6,1320.2L1673.6,1328.4L1640.4,1328.4ZM1669.5,1324.3L1673.6,1320.2L1677.7,1324.3L1681.2,1329.3L1677.1,1333.4L1673.0,1329.3ZM1673.0,1329.3L1676.5,1324.3L1680.6,1320.2L1684.7,1324.3L1681.2,1329.3L1677.1,1333.4ZM1680.6,1320.2L1686.3,1320.2L1686.3,1328.4L1680.6,1328.4ZM1682.2,1324.3L1686.3,1320.2L1690.4,1324.3L1693.9,1329.3L1689.8,1333.4L1685.7,1329.3ZM1685.7,1329.3L1689.2,1324.3L1693.3,1320.2L1697.4,1324.3L1693.9,1329.3L1689.8,1333.4ZM1693.3,1320.2L1712.0,1320.2L1712.0,1328.4L1693.3,1328.4ZM1707.9,1324.3L1714.4,1314.0L1718.5,1309.9L1722.6,1314.0L1716.1,1324.3L1712.0,1328.4ZM1714.4,1314.0L1718.5,1309.9L1721.8,1307.2L1725.9,1311.3L1721.8,1315.4L1718.5,1318.1ZM1717.7,1311.3L1721.8,1307.2L1725.0,1309.9L1729.1,1314.0L1725.0,1318.1L1721.8,1315.4ZM1720.9,1314.0L1725.0,1309.9L1729.1,1314.0L1735.6,1324.3L1731.5,1328.4L1727.4,1324.3ZM1731.5,1320.2L1760.1,1320.2L1760.1,1328.4L1731.5,1328.4ZM1756.0,1324.3L1760.1,1320.2L1764.2,1324.3L1767.2,1329.3L1763.1,1333.4L1759.0,1329.3ZM1759.0,1329.3L1762.0,1324.3L1766.1,1320.2L1770.2,1324.3L1767.2,1329.3L1763.1,1333.4ZM1766.1,1320.2L1770.4,1320.2L1770.4,1328.4L1766.1,1328.4ZM1766.3,1324.3L1770.4,1320.2L1774.5,1324.3L1777.5,1329.3L1773.4,1333.4L1769.3,1329.3ZM1769.3,1329.3L1772.3,1324.3L1776.4,1320.2L1780.5,1324.3L1777.5,1329.3L1773.4,1333.4ZM1776.4,1320.2L1780.7,1320.2L1780.7,1328.4L1776.4,1328.4ZM1776.6,1324.3L1780.7,1320.2L1784.8,1324.3L1787.8,1329.3L1783.7,1333.4L1779.6,1329.3ZM1779.6,1329.3L1782.6,1324.3L1786.7,1320.2L1790.8,1324.3L1787.8,1329.3L1783.7,1333.4ZM1786.7,1320.2L1795.6,1320.2L1795.6,1328.4L1786.7,1328.4ZM1791.5,1324.3L1795.6,1320.2L1799.7,1324.3L1802.7,1329.3L1798.6,1333.4L1794.5,1329.3ZM1794.5,1329.3L1797.5,1324.3L1801.6,1320.2L1805.7,1324.3L1802.7,1329.3L1798.6,1333.4ZM1801.6,1320.2L1808.1,1320.2L1808.1,1328.4L1801.6,1328.4ZM1804.0,1324.3L1808.1,1320.2L1812.2,1324.3L1815.2,1329.3L1811.1,1333.4L1807.0,1329.3ZM1807.0,1329.3L1810.0,1324.3L1814.1,1320.2L1818.2,1324.3L1815.2,1329.3L1811.1,1333.4ZM1814.1,1320.2L1818.4,1320.2L1818.4,1328.4L1814.1,1328.4ZM1814.3,1324.3L1818.4,1320.2L1822.5,1324.3L1825.5,1329.3L1821.4,1333.4L1817.3,1329.3ZM1817.3,1329.3L1820.3,1324.3L1824.4,1320.2L1828.5,1324.3L1825.5,1329.3L1821.4,1333.4ZM1824.4,1320.2L1833.3,1320.2L1833.3,1328.4L1824.4,1328.4ZM1829.2,1324.3L1833.3,1320.2L1837.4,1324.3L1840.4,1329.3L1836.3,1333.4L1832.2,1329.3ZM1832.2,1329.3L1835.2,1324.3L1839.3,1320.2L1843.4,1324.3L1840.4,1329.3L1836.3,1333.4ZM1835.2,1324.3L1839.3,1320.2L1843.4,1324.3L1846.3,1329.3L1842.2,1333.4L1838.1,1329.3ZM1838.1,1329.3L1841.1,1324.3L1845.2,1320.2L1849.3,1324.3L1846.3,1329.3L1842.2,1333.4ZM1841.1,1324.3L1845.2,1320.2L1849.3,1324.3L1852.1,1329.3L1848.0,1333.4L1843.9,1329.3ZM1843.9,1329.3L1846.9,1324.3L1851.0,1320.2L1855.1,1324.3L1852.1,1329.3L1848.0,1333.4ZM1846.9,1324.3L1851.0,1320.2L1855.1,1324.3L1857.9,1329.3L1853.8,1333.4L1849.7,1329.3ZM1849.7,1329.3L1852.7,1324.3L1856.8,1320.2L1860.9,1324.3L1857.9,1329.3L1853.8,1333.4ZM1856.8,1320.2L1859.6,1320.2L1859.6,1328.4L1856.8,1328.4ZM1855.5,1324.3L1859.6,1320.2L1863.7,1324.3L1866.7,1329.3L1862.6,1333.4L1858.5,1329.3ZM1858.5,1329.3L1861.5,1324.3L1865.6,1320.2L1869.7,1324.3L1866.7,1329.3L1862.6,1333.4ZM1865.6,1320.2L1872.1,1320.2L1872.1,1328.4L1865.6,1328.4ZM1868.0,1324.3L1872.1,1320.2L1876.2,1324.3L1879.2,1329.3L1875.1,1333.4L1871.0,1329.3ZM1871.0,1329.3L1874.0,1324.3L1878.1,1320.2L1882.2,1324.3L1879.2,1329.3L1875.1,1333.4ZM1878.1,1320.2L1884.7,1320.2L1884.7,1328.4L1878.1,1328.4ZM1880.6,1324.3L1884.7,1320.2L1888.8,1324.3L1891.8,1329.3L1887.7,1333.4L1883.6,1329.3ZM1883.6,1329.3L1886.6,1324.3L1890.7,1320.2L1894.8,1324.3L1891.8,1329.3L1887.7,1333.4ZM1890.7,1320.2L1908.7,1320.2L1908.7,1328.4L1890.7,1328.4ZM1904.6,1324.3L1908.7,1320.2L1912.8,1324.3L1915.8,1329.3L1911.7,1333.4L1907.6,1329.3ZM1907.6,1329.3L1910.6,1324.3L1914.7,1320.2L1918.8,1324.3L1915.8,1329.3L1911.7,1333.4ZM1914.7,1320.2L1921.3,1320.2L1921.3,1328.4L1914.7,1328.4ZM1917.2,1324.3L1921.3,1320.2L1925.4,1324.3L1928.4,1329.3L1924.3,1333.4L1920.2,1329.3ZM1920.2,1329.3L1923.2,1324.3L1927.3,1320.2L1931.4,1324.3L1928.4,1329.3L1924.3,1333.4ZM1927.3,1320.2L1938.4,1320.2L1938.4,1328.4L1927.3,1328.4ZM1934.3,1324.3L1938.4,1320.2L1942.5,1324.3L1945.5,1329.3L1941.4,1333.4L1937.3,1329.3ZM1937.3,1329.3L1940.3,1324.3L1944.4,1320.2L1948.5,1324.3L1945.5,1329.3L1941.4,1333.4ZM1944.4,1320.2L1947.6,1320.2L1947.6,1328.4L1944.4,1328.4ZM1943.5,1324.3L1947.6,1320.2L1951.7,1324.3L1954.7,1329.3L1950.6,1333.4L1946.5,1329.3ZM1946.5,1329.3L1949.5,1324.3L1953.6,1320.2L1957.7,1324.3L1954.7,1329.3L1950.6,1333.4ZM1953.6,1320.2L1960.0,1320.2L1960.0,1328.4L1953.6,1328.4ZM1955.9,1324.3L1960.0,1320.2L1967.0,1323.9L1971.1,1328.0L1967.0,1332.1L1960.0,1328.4ZM1967.0,1323.9L1981.0,1323.9L1981.0,1332.1L1967.0,1332.1ZM1976.9,1328.0L1980.8,1323.5L1984.9,1319.4L1989.0,1323.5L1985.1,1328.0L1981.0,1332.1ZM1980.8,1323.5L1984.9,1319.4L1989.0,1323.5L1993.1,1328.0L1989.0,1332.1L1984.9,1328.0ZM1989.0,1323.9L2022.0,1323.9L2022.0,1332.1L1989.0,1332.1ZM2017.9,1328.0L2026.0,1319.9L2030.1,1324.0L2022.0,1332.1ZM2026.0,1319.9L2033.0,1319.9L2033.0,1328.1L2026.0,1328.1ZM2028.9,1324.0L2033.0,1319.9L2037.4,1323.9L2041.5,1328.0L2037.4,1332.1L2033.0,1328.1ZM2037.4,1323.9L2046.0,1323.9L2046.0,1332.1L2037.4,1332.1ZM2041.9,1328.0L2045.9,1323.5L2050.0,1319.4L2054.1,1323.5L2050.1,1328.0L2046.0,1332.1ZM2045.9,1323.5L2050.0,1319.4L2054.1,1323.5L2058.1,1328.0L2054.0,1332.1L2049.9,1328.0ZM2054.0,1323.9L2077.0,1323.9L2077.0,1332.1L2054.0,1332.1ZM2072.9,1328.0L2081.0,1319.9L2085.1,1324.0L2077.0,1332.1ZM2081.0,1319.9L2086.0,1319.9L2086.0,1328.1L2081.0,1328.1ZM2081.9,1324.0L2086.0,1319.9L2092.0,1324.9L2096.1,1329.0L2092.0,1333.1L2086.0,1328.1ZM2087.9,1329.0L2097.0,1319.9L2101.1,1324.0L2092.0,1333.1ZM2092.9,1324.0L2097.0,1319.9L2110.0,1319.7L2114.1,1323.8L2110.0,1327.9L2097.0,1328.1ZM2105.9,1323.8L2111.9,1317.5L2116.0,1313.4L2120.1,1317.5L2114.1,1323.8L2110.0,1327.9ZM2111.9,1317.5L2116.0,1313.4L2119.5,1312.1L2123.6,1316.2L2119.5,1320.3L2116.0,1321.6ZM2115.4,1316.2L2119.5,1312.1L2124.0,1313.9L2128.1,1318.0L2124.0,1322.1L2119.5,1320.3ZM2119.9,1318.0L2124.0,1313.9L2130.0,1319.4L2134.1,1323.5L2130.0,1327.6L2124.0,1322.1ZM2125.9,1323.5L2130.0,1319.4L2141.0,1319.9L2145.1,1324.0L2141.0,1328.1L2130.0,1327.6ZM2136.9,1324.0L2141.0,1319.9L2145.6,1324.4L2149.7,1328.5L2145.6,1332.6L2141.0,1328.1ZM2141.5,1328.5L2145.9,1323.0L2150.0,1318.9L2154.1,1323.0L2149.7,1328.5L2145.6,1332.6ZM2145.9,1323.0L2150.0,1318.9L2152.0,1317.9L2156.1,1322.0L2152.0,1326.1L2150.0,1327.1ZM2152.0,1317.9L2156.0,1317.9L2156.0,1326.1L2152.0,1326.1ZM654.6,1299.5L662.8,1299.5L662.8,1307.7L654.6,1307.7ZM658.0,1299.5L666.2,1299.5L666.2,1307.7L658.0,1307.7ZM658.0,1219.9L666.2,1219.9L666.2,1228.1L658.0,1228.1ZM661.7,1219.9L669.9,1219.9L669.9,1228.1L661.7,1228.1ZM661.7,895.9L669.9,895.9L669.9,904.1L661.7,904.1ZM667.1,895.9L675.3,895.9L675.3,904.1L667.1,904.1ZM667.1,1219.9L675.3,1219.9L675.3,1228.1L667.1,1228.1ZM671.6,1219.9L679.8,1219.9L679.8,1228.1L671.6,1228.1ZM671.6,1303.9L679.8,1303.9L679.8,1312.1L671.6,1312.1ZM676.2,1303.9L684.4,1303.9L684.4,1312.1L676.2,1312.1ZM807.6,1274.8L815.8,1274.8L815.8,1283.0L807.6,1283.0ZM811.3,1274.8L819.5,1274.8L819.5,1283.0L811.3,1283.0ZM811.3,1101.9L819.5,1101.9L819.5,1110.1L811.3,1110.1ZM818.8,1101.9L827.0,1101.9L827.0,1110.1L818.8,1110.1ZM818.8,1290.4L827.0,1290.4L827.0,1298.6L818.8,1298.6ZM823.2,1290.4L831.4,1290.4L831.4,1298.6L823.2,1298.6ZM1295.0,1284.9L1303.2,1284.9L1303.2,1293.1L1295.0,1293.1ZM1299.1,1284.9L1307.3,1284.9L1307.3,1293.1L1299.1,1293.1ZM1299.1,1246.3L1307.3,1246.3L1307.3,1254.5L1299.1,1254.5ZM1303.6,1246.3L1311.8,1246.3L1311.8,1254.5L1303.6,1254.5ZM1303.6,1231.0L1311.8,1231.0L1311.8,1239.2L1303.6,1239.2ZM1303.6,1246.3L1311.8,1246.3L1311.8,1254.5L1303.6,1254.5ZM1308.0,1246.3L1316.2,1246.3L1316.2,1254.5L1308.0,1254.5ZM1308.0,1284.9L1316.2,1284.9L1316.2,1293.1L1308.0,1293.1ZM1311.8,1284.9L1320.0,1284.9L1320.0,1293.1L1311.8,1293.1ZM1607.6,1300.1L1615.8,1300.1L1615.8,1308.3L1607.6,1308.3ZM1611.3,1300.1L1619.5,1300.1L1619.5,1308.3L1611.3,1308.3ZM1611.3,1275.5L1619.5,1275.5L1619.5,1283.7L1611.3,1283.7ZM1615.8,1275.5L1624.0,1275.5L1624.0,1283.7L1615.8,1283.7ZM1615.8,1251.9L1624.0,1251.9L1624.0,1260.1L1615.8,1260.1ZM1619.5,1251.9L1627.7,1251.9L1627.7,1260.1L1619.5,1260.1ZM1619.5,1266.6L1627.7,1266.6L1627.7,1274.8L1619.5,1274.8ZM1623.6,1266.6L1631.8,1266.6L1631.8,1274.8L1623.6,1274.8ZM1623.6,1291.1L1631.8,1291.1L1631.8,1299.3L1623.6,1299.3ZM1627.7,1291.1L1635.9,1291.1L1635.9,1299.3L1627.7,1299.3Z" fill="#0079c2" fill-rule="nonzero"/>
<path d="M1303.6,1246.0L1311.8,1246.0L1311.8,1289.0L1303.6,1289.0Z" fill="#0079c2" fill-rule="nonzero"/>
<path d="M1619.6,1266.0L1627.8,1266.0L1627.8,1279.6L1619.6,1279.6Z" fill="#0079c2" fill-rule="nonzero"/>
<polygon points="1615.8,1254.0 1620.2,1243.9 1623.2,1243.9 1627.7,1254.0" fill="#0079c2"/>
<polygon points="1303.6,1236.0 1305.2,1230.5 1310.2,1230.5 1311.8,1236.0" fill="#0079c2"/>
<path d="M227.5,1231.4L253.0,1231.4L253.0,1239.6L227.5,1239.6ZM248.9,1235.5L253.0,1231.4L257.1,1235.5L261.2,1240.0L257.1,1244.1L253.0,1240.0ZM253.0,1240.0L256.9,1235.5L261.0,1231.4L265.1,1235.5L261.2,1240.0L257.1,1244.1ZM261.0,1231.4L278.0,1231.4L278.0,1239.6L261.0,1239.6ZM273.9,1235.5L278.0,1231.4L282.1,1235.5L286.2,1240.5L282.1,1244.6L278.0,1240.5ZM278.0,1240.5L282.9,1235.5L287.0,1231.4L291.1,1235.5L286.2,1240.5L282.1,1244.6ZM287.0,1231.4L298.0,1231.4L298.0,1239.6L287.0,1239.6ZM293.9,1235.5L298.0,1231.4L302.1,1235.5L305.6,1240.0L301.5,1244.1L297.4,1240.0ZM301.5,1235.9L313.0,1235.9L313.0,1244.1L301.5,1244.1ZM308.9,1240.0L312.9,1235.0L317.0,1230.9L321.1,1235.0L317.1,1240.0L313.0,1244.1ZM312.9,1235.0L317.0,1230.9L321.1,1235.0L325.1,1240.0L321.0,1244.1L316.9,1240.0ZM321.0,1235.9L331.0,1235.9L331.0,1244.1L321.0,1244.1ZM326.9,1240.0L331.4,1235.0L335.5,1230.9L339.6,1235.0L335.1,1240.0L331.0,1244.1ZM331.4,1235.0L335.5,1230.9L339.6,1235.0L344.1,1240.0L340.0,1244.1L335.9,1240.0ZM340.0,1235.9L353.0,1235.9L353.0,1244.1L340.0,1244.1ZM348.9,1240.0L353.0,1235.9L357.2,1233.4L361.3,1237.5L357.2,1241.6L353.0,1244.1ZM353.1,1237.5L357.2,1233.4L361.0,1235.8L365.1,1239.9L361.0,1244.0L357.2,1241.6ZM361.0,1235.8L525.7,1235.8L525.7,1244.0L361.0,1244.0ZM521.6,1239.9L525.1,1235.4L529.2,1231.3L533.3,1235.4L529.8,1239.9L525.7,1244.0ZM525.1,1235.4L529.2,1231.3L533.3,1235.4L536.8,1239.9L532.7,1244.0L528.6,1239.9ZM532.7,1235.8L572.9,1235.8L572.9,1244.0L532.7,1244.0ZM568.8,1239.9L572.3,1235.4L576.4,1231.3L580.5,1235.4L577.0,1239.9L572.9,1244.0ZM572.3,1235.4L576.4,1231.3L580.5,1235.4L584.0,1239.9L579.9,1244.0L575.8,1239.9ZM579.9,1235.8L588.7,1235.8L588.7,1244.0L579.9,1244.0ZM584.6,1239.9L588.1,1235.4L592.2,1231.3L596.3,1235.4L592.8,1239.9L588.7,1244.0ZM588.1,1235.4L592.2,1231.3L596.3,1235.4L599.8,1239.9L595.7,1244.0L591.6,1239.9ZM595.7,1235.8L628.0,1235.8L628.0,1244.0L595.7,1244.0ZM623.9,1239.9L628.0,1235.8L632.3,1231.9L636.4,1236.0L632.3,1240.1L628.0,1244.0ZM628.2,1236.0L632.3,1231.9L638.3,1236.4L642.4,1240.5L638.3,1244.6L632.3,1240.1ZM634.2,1240.5L638.3,1236.4L645.0,1233.9L649.1,1238.0L645.0,1242.1L638.3,1244.6ZM640.9,1238.0L645.0,1233.9L651.0,1228.9L655.1,1233.0L651.0,1237.1L645.0,1242.1ZM646.9,1233.0L651.0,1228.9L655.0,1225.4L659.1,1229.5L655.0,1233.6L651.0,1237.1ZM650.9,1229.5L655.0,1225.4L658.7,1221.9L662.8,1226.0L658.7,1230.1L655.0,1233.6ZM654.6,1199.2L662.8,1199.2L662.8,1226.0L654.6,1226.0ZM658.7,1195.1L662.7,1195.1L662.7,1203.3L658.7,1203.3ZM658.6,887.0L666.8,887.0L666.8,1199.2L658.6,1199.2ZM662.7,882.9L666.3,882.9L666.3,891.1L662.7,891.1ZM662.2,636.0L670.4,636.0L670.4,887.0L662.2,887.0ZM666.3,631.9L667.7,631.9L667.7,640.1L666.3,640.1ZM663.6,636.0L671.8,636.0L671.8,743.0L663.6,743.0ZM667.7,738.9L671.3,738.9L671.3,747.1L667.7,747.1ZM667.2,743.0L675.4,743.0L675.4,1167.2L667.2,1167.2ZM671.3,1163.1L675.5,1163.1L675.5,1171.3L671.3,1171.3ZM671.4,1167.2L679.6,1167.2L679.6,1219.3L671.4,1219.3ZM675.5,1215.2L679.6,1215.2L679.6,1223.4L675.5,1223.4ZM675.5,1219.3L683.7,1219.3L683.7,1229.0L675.5,1229.0ZM675.5,1229.0L679.6,1224.9L683.7,1229.0L688.1,1234.0L684.0,1238.1L679.9,1234.0ZM679.9,1234.0L684.0,1229.9L687.0,1231.2L691.1,1235.3L687.0,1239.4L684.0,1238.1ZM687.0,1231.2L697.8,1231.2L697.8,1239.4L687.0,1239.4ZM693.7,1235.3L697.8,1231.2L701.9,1235.3L704.9,1240.5L700.8,1244.6L696.7,1240.5ZM696.7,1240.5L701.1,1236.0L705.2,1231.9L709.3,1236.0L704.9,1240.5L700.8,1244.6ZM701.1,1236.0L705.2,1231.9L709.3,1236.0L713.1,1239.9L709.0,1244.0L704.9,1239.9ZM709.0,1235.8L760.0,1235.8L760.0,1244.0L709.0,1244.0ZM755.9,1239.9L760.0,1235.8L764.5,1231.4L768.6,1235.5L764.5,1239.6L760.0,1244.0ZM760.4,1235.5L764.5,1231.4L769.0,1235.8L773.1,1239.9L769.0,1244.0L764.5,1239.6ZM769.0,1235.8L776.0,1235.8L776.0,1244.0L769.0,1244.0ZM771.9,1239.9L775.9,1235.5L780.0,1231.4L784.1,1235.5L780.1,1239.9L776.0,1244.0ZM775.9,1235.5L780.0,1231.4L784.1,1235.5L788.7,1240.5L784.6,1244.6L780.5,1240.5ZM780.5,1240.5L784.6,1236.4L789.0,1232.4L793.1,1236.5L789.0,1240.6L784.6,1244.6ZM789.0,1232.4L794.0,1232.4L794.0,1240.6L789.0,1240.6ZM789.9,1236.5L794.0,1232.4L798.1,1236.5L801.3,1240.5L797.2,1244.6L793.1,1240.5ZM793.1,1240.5L795.9,1236.0L800.0,1231.9L804.1,1236.0L801.3,1240.5L797.2,1244.6ZM795.9,1236.0L799.9,1231.0L804.0,1226.9L808.1,1231.0L804.1,1236.0L800.0,1240.1ZM799.9,1231.0L803.9,1225.0L808.0,1220.9L812.1,1225.0L808.1,1231.0L804.0,1235.1ZM803.9,1225.0L806.9,1220.0L811.0,1215.9L815.1,1220.0L812.1,1225.0L808.0,1229.1ZM806.9,1131.3L815.1,1131.3L815.1,1220.0L806.9,1220.0ZM811.0,1127.2L815.4,1127.2L815.4,1135.4L811.0,1135.4ZM811.3,879.4L819.5,879.4L819.5,1131.3L811.3,1131.3ZM815.4,875.3L819.9,875.3L819.9,883.5L815.4,883.5ZM815.8,879.4L824.0,879.4L824.0,1100.1L815.8,1100.1ZM819.9,1096.0L823.6,1096.0L823.6,1104.2L819.9,1104.2ZM819.5,1100.1L827.7,1100.1L827.7,1211.9L819.5,1211.9ZM823.6,1207.8L827.9,1207.8L827.9,1216.0L823.6,1216.0ZM823.8,1211.9L832.0,1211.9L832.0,1229.8L823.8,1229.8ZM823.8,1229.8L827.9,1225.7L832.0,1229.8L836.1,1234.0L832.0,1238.1L827.9,1234.0ZM827.9,1234.0L832.0,1229.9L836.0,1231.9L840.1,1236.0L836.0,1240.1L832.0,1238.1ZM836.0,1231.9L841.8,1231.9L841.8,1240.1L836.0,1240.1ZM837.7,1236.0L841.8,1231.9L845.9,1236.0L848.9,1241.0L844.8,1245.1L840.7,1241.0ZM840.7,1241.0L843.9,1237.0L848.0,1232.9L852.1,1237.0L848.9,1241.0L844.8,1245.1ZM843.9,1237.0L848.0,1232.9L851.5,1230.4L855.6,1234.5L851.5,1238.6L848.0,1241.1ZM847.4,1234.5L851.5,1230.4L855.6,1234.5L859.3,1239.9L855.2,1244.0L851.1,1239.9ZM855.2,1235.8L1278.0,1235.8L1278.0,1244.0L855.2,1244.0ZM1273.9,1239.9L1276.7,1236.5L1280.8,1232.4L1284.9,1236.5L1282.1,1239.9L1278.0,1244.0ZM1276.7,1236.5L1280.8,1232.4L1284.9,1236.5L1288.6,1241.0L1284.5,1245.1L1280.4,1241.0ZM1280.4,1241.0L1284.5,1236.9L1288.0,1233.9L1292.1,1238.0L1288.0,1242.1L1284.5,1245.1ZM1283.9,1238.0L1288.9,1232.0L1293.0,1227.9L1297.1,1232.0L1292.1,1238.0L1288.0,1242.1ZM1288.9,1232.0L1292.9,1226.0L1297.0,1221.9L1301.1,1226.0L1297.1,1232.0L1293.0,1236.1ZM1292.9,1226.0L1295.4,1222.0L1299.5,1217.9L1303.6,1222.0L1301.1,1226.0L1297.0,1230.1ZM1295.4,1184.0L1303.6,1184.0L1303.6,1222.0L1295.4,1222.0ZM1299.5,1179.9L1303.2,1179.9L1303.2,1188.1L1299.5,1188.1ZM1299.1,1116.0L1307.3,1116.0L1307.3,1184.0L1299.1,1184.0ZM1303.2,1111.9L1307.7,1111.9L1307.7,1120.1L1303.2,1120.1ZM1303.6,1116.0L1311.8,1116.0L1311.8,1166.0L1303.6,1166.0ZM1307.7,1161.9L1312.1,1161.9L1312.1,1170.1L1307.7,1170.1ZM1308.0,1166.0L1316.2,1166.0L1316.2,1222.0L1308.0,1222.0ZM1308.0,1222.0L1312.1,1217.9L1316.2,1222.0L1319.1,1227.0L1315.0,1231.1L1310.9,1227.0ZM1310.9,1227.0L1315.0,1222.9L1319.1,1227.0L1323.1,1232.0L1319.0,1236.1L1314.9,1232.0ZM1314.9,1232.0L1319.0,1227.9L1327.1,1236.0L1323.0,1240.1ZM1318.9,1236.0L1323.0,1231.9L1328.0,1235.8L1332.1,1239.9L1328.0,1244.0L1323.0,1240.1ZM1328.0,1235.8L1537.1,1235.8L1537.1,1244.0L1328.0,1244.0ZM1533.0,1239.9L1536.5,1234.9L1540.6,1230.8L1544.7,1234.9L1541.2,1239.9L1537.1,1244.0ZM1536.5,1234.9L1540.6,1230.8L1544.7,1234.9L1548.2,1239.9L1544.1,1244.0L1540.0,1239.9ZM1544.1,1235.8L1586.0,1235.8L1586.0,1244.0L1544.1,1244.0ZM1581.9,1239.9L1585.4,1236.0L1589.5,1231.9L1593.6,1236.0L1590.1,1239.9L1586.0,1244.0ZM1585.4,1236.0L1589.5,1231.9L1593.6,1236.0L1597.1,1241.0L1593.0,1245.1L1588.9,1241.0ZM1588.9,1241.0L1593.0,1236.9L1597.0,1233.9L1601.1,1238.0L1597.0,1242.1L1593.0,1245.1ZM1592.9,1238.0L1597.0,1233.9L1603.0,1228.9L1607.1,1233.0L1603.0,1237.1L1597.0,1242.1ZM1598.9,1233.0L1608.0,1223.9L1612.1,1228.0L1603.0,1237.1ZM1603.9,1228.0L1607.6,1224.0L1611.7,1219.9L1615.8,1224.0L1612.1,1228.0L1608.0,1232.1ZM1607.6,1199.7L1615.8,1199.7L1615.8,1224.0L1607.6,1224.0ZM1611.7,1195.6L1615.6,1195.6L1615.6,1203.8L1611.7,1203.8ZM1611.5,1135.7L1619.7,1135.7L1619.7,1199.7L1611.5,1199.7ZM1615.6,1131.6L1619.9,1131.6L1619.9,1139.8L1615.6,1139.8ZM1615.8,1126.4L1624.0,1126.4L1624.0,1135.7L1615.8,1135.7ZM1615.8,1126.4L1624.0,1126.4L1624.0,1147.6L1615.8,1147.6ZM1619.9,1143.5L1623.6,1143.5L1623.6,1151.7L1619.9,1151.7ZM1619.5,1147.6L1627.7,1147.6L1627.7,1183.3L1619.5,1183.3ZM1623.6,1179.2L1627.9,1179.2L1627.9,1187.4L1623.6,1187.4ZM1623.8,1183.3L1632.0,1183.3L1632.0,1222.3L1623.8,1222.3ZM1623.8,1222.3L1627.9,1218.2L1632.0,1222.3L1635.9,1229.0L1631.8,1233.1L1627.7,1229.0ZM1627.7,1229.0L1631.8,1224.9L1635.9,1229.0L1640.1,1234.5L1636.0,1238.6L1631.9,1234.5ZM1631.9,1234.5L1636.0,1230.4L1655.0,1231.2L1659.1,1235.3L1655.0,1239.4L1636.0,1238.6ZM1650.9,1235.3L1655.0,1231.2L1659.1,1235.3L1661.6,1240.5L1657.5,1244.6L1653.4,1240.5ZM1653.4,1240.5L1657.9,1235.0L1662.0,1230.9L1666.1,1235.0L1661.6,1240.5L1657.5,1244.6ZM1657.9,1235.0L1662.0,1230.9L1666.1,1235.0L1670.1,1239.9L1666.0,1244.0L1661.9,1239.9ZM1666.0,1235.8L1709.0,1235.8L1709.0,1244.0L1666.0,1244.0ZM1704.9,1239.9L1712.4,1224.0L1716.5,1219.9L1720.6,1224.0L1713.1,1239.9L1709.0,1244.0ZM1712.4,1224.0L1716.2,1219.3L1720.3,1215.2L1724.4,1219.3L1720.6,1224.0L1716.5,1228.1ZM1716.2,1219.3L1720.3,1215.2L1724.4,1219.3L1728.1,1224.0L1724.0,1228.1L1719.9,1224.0ZM1719.9,1224.0L1724.0,1219.9L1728.1,1224.0L1737.6,1239.9L1733.5,1244.0L1729.4,1239.9ZM1733.5,1235.8L2103.0,1235.8L2103.0,1244.0L1733.5,1244.0ZM2098.9,1239.9L2105.9,1229.0L2110.0,1224.9L2114.1,1229.0L2107.1,1239.9L2103.0,1244.0ZM2105.9,1229.0L2109.5,1224.5L2113.6,1220.4L2117.7,1224.5L2114.1,1229.0L2110.0,1233.1ZM2109.5,1224.5L2113.6,1220.4L2118.0,1222.9L2122.1,1227.0L2118.0,1231.1L2113.6,1228.6ZM2113.9,1227.0L2118.0,1222.9L2126.0,1229.9L2130.1,1234.0L2126.0,1238.1L2118.0,1231.1ZM2121.9,1234.0L2126.0,1229.9L2132.0,1235.8L2136.1,1239.9L2132.0,1244.0L2126.0,1238.1ZM2132.0,1235.8L2156.0,1235.8L2156.0,1244.0L2132.0,1244.0ZM654.6,1195.1L662.8,1195.1L662.8,1203.3L654.6,1203.3ZM658.6,1195.1L666.8,1195.1L666.8,1203.3L658.6,1203.3ZM658.6,882.9L666.8,882.9L666.8,891.1L658.6,891.1ZM662.2,882.9L670.4,882.9L670.4,891.1L662.2,891.1ZM662.2,631.9L670.4,631.9L670.4,640.1L662.2,640.1ZM663.6,631.9L671.8,631.9L671.8,640.1L663.6,640.1ZM663.6,738.9L671.8,738.9L671.8,747.1L663.6,747.1ZM667.2,738.9L675.4,738.9L675.4,747.1L667.2,747.1ZM667.2,1163.1L675.4,1163.1L675.4,1171.3L667.2,1171.3ZM671.4,1163.1L679.6,1163.1L679.6,1171.3L671.4,1171.3ZM671.4,1215.2L679.6,1215.2L679.6,1223.4L671.4,1223.4ZM675.5,1215.2L683.7,1215.2L683.7,1223.4L675.5,1223.4ZM806.9,1127.2L815.1,1127.2L815.1,1135.4L806.9,1135.4ZM811.3,1127.2L819.5,1127.2L819.5,1135.4L811.3,1135.4ZM811.3,875.3L819.5,875.3L819.5,883.5L811.3,883.5ZM815.8,875.3L824.0,875.3L824.0,883.5L815.8,883.5ZM815.8,1096.0L824.0,1096.0L824.0,1104.2L815.8,1104.2ZM819.5,1096.0L827.7,1096.0L827.7,1104.2L819.5,1104.2ZM819.5,1207.8L827.7,1207.8L827.7,1216.0L819.5,1216.0ZM823.8,1207.8L832.0,1207.8L832.0,1216.0L823.8,1216.0ZM1295.4,1179.9L1303.6,1179.9L1303.6,1188.1L1295.4,1188.1ZM1299.1,1179.9L1307.3,1179.9L1307.3,1188.1L1299.1,1188.1ZM1299.1,1111.9L1307.3,1111.9L1307.3,1120.1L1299.1,1120.1ZM1303.6,1111.9L1311.8,1111.9L1311.8,1120.1L1303.6,1120.1ZM1303.6,1161.9L1311.8,1161.9L1311.8,1170.1L1303.6,1170.1ZM1308.0,1161.9L1316.2,1161.9L1316.2,1170.1L1308.0,1170.1ZM1607.6,1195.6L1615.8,1195.6L1615.8,1203.8L1607.6,1203.8ZM1611.5,1195.6L1619.7,1195.6L1619.7,1203.8L1611.5,1203.8ZM1611.5,1131.6L1619.7,1131.6L1619.7,1139.8L1611.5,1139.8ZM1615.8,1131.6L1624.0,1131.6L1624.0,1139.8L1615.8,1139.8ZM1615.8,1122.3L1624.0,1122.3L1624.0,1130.5L1615.8,1130.5ZM1615.8,1143.5L1624.0,1143.5L1624.0,1151.7L1615.8,1151.7ZM1619.5,1143.5L1627.7,1143.5L1627.7,1151.7L1619.5,1151.7ZM1619.5,1179.2L1627.7,1179.2L1627.7,1187.4L1619.5,1187.4ZM1623.8,1179.2L1632.0,1179.2L1632.0,1187.4L1623.8,1187.4Z" fill="#00aa16" fill-rule="nonzero"/>
<path d="M662.9,880.0L671.1,880.0L671.1,1170.0L662.9,1170.0Z" fill="#00aa16" fill-rule="nonzero"/>
<path d="M815.4,1095.0L823.6,1095.0L823.6,1131.3L815.4,1131.3Z" fill="#00aa16" fill-rule="nonzero"/>
<path d="M1303.6,1160.0L1311.8,1160.0L1311.8,1184.0L1303.6,1184.0Z" fill="#00aa16" fill-rule="nonzero"/>
<path d="M1615.5,1143.0L1623.7,1143.0L1623.7,1183.3L1615.5,1183.3Z" fill="#00aa16" fill-rule="nonzero"/>
<polygon points="1299.1,1114.0 1303.9,1107.1 1306.9,1107.1 1311.8,1114.0" fill="#00aa16"/>
<polygon points="1615.8,1126.0 1617.5,1122.0 1623.5,1122.0 1624.0,1126.0" fill="#00aa16"/>
<polygon points="662.2,632.5 667.4,626.2 671.8,626.2 671.8,632.5" fill="#00aa16"/>
<rect x="670.6" y="1170" width="4.2" height="51" fill="#0079c2"/>
<text transform="translate(180.8,1696.3)" font-size="104.6" font-weight="bold" text-anchor="start" letter-spacing="-4.53">20</text>
<text transform="translate(419.1,1696.3)" font-size="104.6" font-weight="bold" text-anchor="start" letter-spacing="-2.83">30</text>
<text transform="translate(661.7,1696.3)" font-size="104.6" font-weight="bold" text-anchor="start" letter-spacing="-2.15">40</text>
<text transform="translate(900.8,1696.3)" font-size="104.6" font-weight="bold" text-anchor="start" letter-spacing="-1.23">50</text>
<text transform="translate(1143.0,1696.3)" font-size="104.6" font-weight="bold" text-anchor="start" letter-spacing="-5.00">60</text>
<text transform="translate(1384.2,1696.3)" font-size="104.6" font-weight="bold" text-anchor="start" letter-spacing="-4.66">70</text>
<text transform="translate(1625.6,1696.3)" font-size="104.6" font-weight="bold" text-anchor="start" letter-spacing="-1.05">80</text>
<text transform="translate(1864.6,1696.3)" font-size="104.6" font-weight="bold" text-anchor="start" letter-spacing="-0.68">90</text>
<text transform="translate(2080.9,1696.3)" font-size="104.6" font-weight="bold" text-anchor="start" letter-spacing="-2.17">100</text>
<text transform="translate(953.2,1820.4) scale(1.0200,1)" font-size="126.7" font-weight="bold" text-anchor="start">2θ</text>
<text transform="translate(1107.9,1820.4) scale(0.9640,1)" font-size="126.7" font-weight="bold" text-anchor="start">/degree</text>
<text transform="translate(103.2,1217.6) rotate(-90) scale(0.9950,1)" font-size="131.0" font-weight="bold" text-anchor="start">Intensity (a.u.)</text>
<line x1="1595.5" y1="120" x2="1791.5" y2="120" stroke="#00aa16" stroke-width="8" stroke-linecap="round"/>
<line x1="1598.3" y1="239.6" x2="1788" y2="239.6" stroke="#0079c2" stroke-width="8" stroke-linecap="round"/>
<line x1="1595.5" y1="355.8" x2="1791.5" y2="355.8" stroke="#ff8400" stroke-width="8" stroke-linecap="round"/>
<text transform="translate(1832.0,152.9) scale(0.9360,1)" font-size="98.0" font-weight="bold" text-anchor="start">Up</text>
<text transform="translate(1811.6,267.1) scale(0.9000,1)" font-size="98.0" font-weight="bold" text-anchor="start">Middle</text>
<text transform="translate(1811.6,387.1) scale(0.8840,1)" font-size="98.0" font-weight="bold" text-anchor="start">Bottom</text>
<polygon points="1759.0,439.4 1781.3,463.6 1759.0,487.9 1736.7,463.6" fill="#000"/>
<text transform="translate(1801.5,488.0) scale(1.2200,1)" font-size="98.0" font-weight="bold" text-anchor="start">α</text>
<text transform="translate(1864.3,488.0)" font-size="98.0" font-weight="normal" text-anchor="start">–</text>
<text transform="translate(1906.1,488.0) scale(0.9500,1)" font-size="98.0" font-weight="bold" text-anchor="start">Al</text>
<path transform="translate(1759.7,560.8) scale(45.2,44.3)" d="M0,-0.2 C-0.03,-0.2 -0.08,-0.27 -0.1,-0.36 C-0.13,-0.47 -0.2,-0.5 -0.28,-0.5 C-0.42,-0.5 -0.5,-0.42 -0.5,-0.3 C-0.5,-0.2 -0.48,-0.12 -0.42,-0.03 L-0.07,0.45 C-0.04,0.5 0.04,0.5 0.07,0.45 L0.42,-0.03 C0.48,-0.12 0.5,-0.2 0.5,-0.3 C0.5,-0.42 0.42,-0.5 0.28,-0.5 C0.2,-0.5 0.13,-0.47 0.1,-0.36 C0.08,-0.27 0.03,-0.2 0,-0.2 Z" fill="#000"/>
<text transform="translate(1803.1,592.9) scale(0.8530,1)" font-size="94.0" font-weight="bold" text-anchor="start">MgZn<tspan font-size="60.6" dx="2" dy="18.5">2</tspan></text>
<text transform="translate(696.2,573.0) rotate(-90) scale(0.8900,1)" font-size="92.0" font-weight="bold" text-anchor="start" letter-spacing="6.18">(111)</text>
<text transform="translate(839.2,811.9) rotate(-90) scale(0.8900,1)" font-size="92.0" font-weight="bold" text-anchor="start" letter-spacing="4.38">(200)</text>
<text transform="translate(1327.2,1041.2) rotate(-90) scale(0.8900,1)" font-size="92.0" font-weight="bold" text-anchor="start" letter-spacing="3.65">(220)</text>
<text transform="translate(1643.8,1065.2) rotate(-90) scale(0.8900,1)" font-size="92.0" font-weight="bold" text-anchor="start" letter-spacing="4.92">(311)</text>
<text transform="translate(1739.9,1147.2) rotate(-90) scale(0.8900,1)" font-size="92.0" font-weight="bold" text-anchor="start" letter-spacing="3.03">(222)</text>
<text transform="translate(2136.4,1145.2) rotate(-90) scale(0.8900,1)" font-size="92.0" font-weight="bold" text-anchor="start" letter-spacing="3.65">(400)</text>
<polygon points="670.8,572.0 692.6,596.0 670.8,620.0 649.0,596.0" fill="#000"/>
<polygon points="822.8,816.0 844.6,840.0 822.8,864.0 801.0,840.0" fill="#000"/>
<polygon points="1311.0,1048.0 1332.8,1072.0 1311.0,1096.0 1289.2,1072.0" fill="#000"/>
<polygon points="1622.8,1064.6 1644.6,1088.6 1622.8,1112.6 1601.0,1088.6" fill="#000"/>
<polygon points="1722.8,1152.2 1744.6,1176.2 1722.8,1200.2 1701.0,1176.2" fill="#000"/>
<polygon points="2122.6,1151.3 2144.4,1175.3 2122.6,1199.3 2100.8,1175.3" fill="#000"/>
<path transform="translate(751.5,1209.0) scale(43.5,44.0)" d="M0,-0.2 C-0.03,-0.2 -0.08,-0.27 -0.1,-0.36 C-0.13,-0.47 -0.2,-0.5 -0.28,-0.5 C-0.42,-0.5 -0.5,-0.42 -0.5,-0.3 C-0.5,-0.2 -0.48,-0.12 -0.42,-0.03 L-0.07,0.45 C-0.04,0.5 0.04,0.5 0.07,0.45 L0.42,-0.03 C0.48,-0.12 0.5,-0.2 0.5,-0.3 C0.5,-0.42 0.42,-0.5 0.28,-0.5 C0.2,-0.5 0.13,-0.47 0.1,-0.36 C0.08,-0.27 0.03,-0.2 0,-0.2 Z" fill="#000"/>
<path transform="translate(1435.3,1209.0) scale(43.5,44.0)" d="M0,-0.2 C-0.03,-0.2 -0.08,-0.27 -0.1,-0.36 C-0.13,-0.47 -0.2,-0.5 -0.28,-0.5 C-0.42,-0.5 -0.5,-0.42 -0.5,-0.3 C-0.5,-0.2 -0.48,-0.12 -0.42,-0.03 L-0.07,0.45 C-0.04,0.5 0.04,0.5 0.07,0.45 L0.42,-0.03 C0.48,-0.12 0.5,-0.2 0.5,-0.3 C0.5,-0.42 0.42,-0.5 0.28,-0.5 C0.2,-0.5 0.13,-0.47 0.1,-0.36 C0.08,-0.27 0.03,-0.2 0,-0.2 Z" fill="#000"/>
</g>
</svg>
</body>
</html>
